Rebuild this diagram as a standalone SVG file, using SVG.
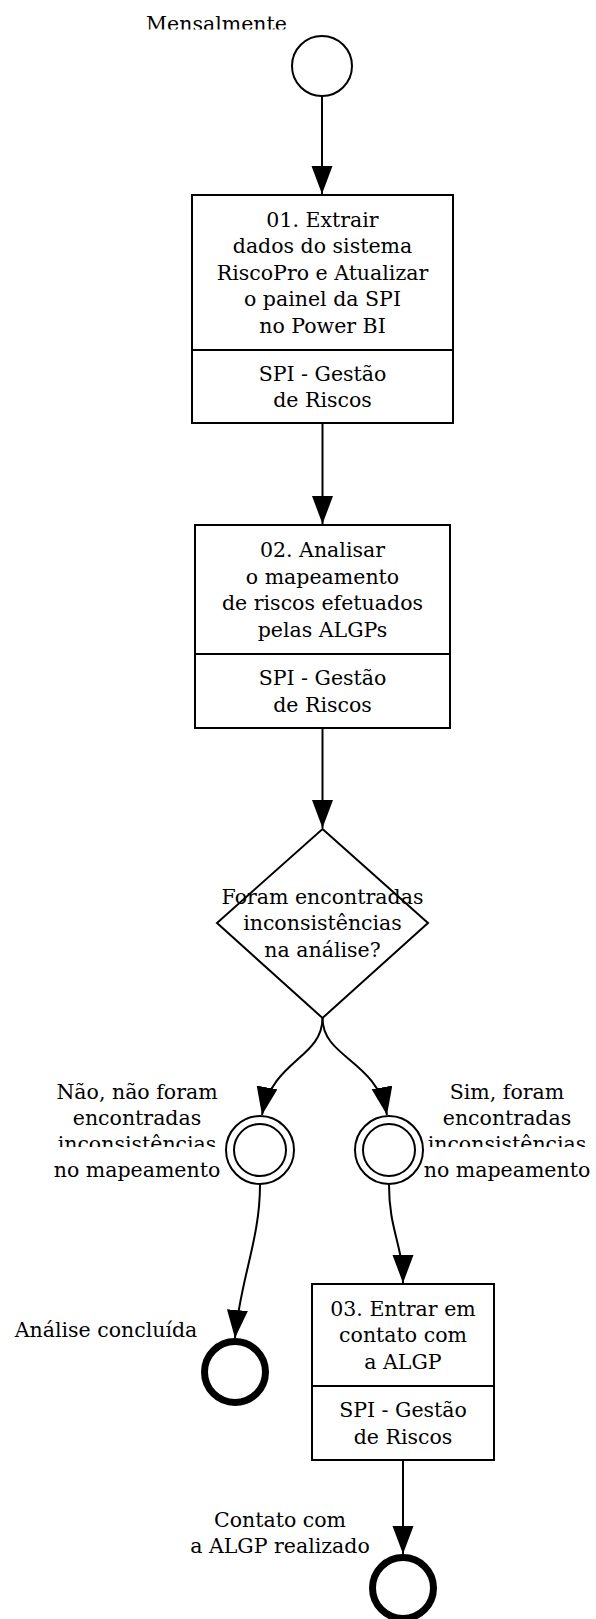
<svg xmlns="http://www.w3.org/2000/svg" width="596" height="1619" viewBox="0 0 596 1619">
<style>
text{font-family:"DejaVu Serif","Liberation Serif",serif;font-size:20.5px;fill:#000;text-anchor:middle}
.box{fill:#fff;stroke:#000;stroke-width:2}
.div{stroke:#000;stroke-width:2}
.ev{fill:#fff;stroke:#000;stroke-width:2}
.end{fill:#fff;stroke:#000;stroke-width:7}
.con{fill:none;stroke:#000;stroke-width:2;marker-end:url(#ah)}
</style>
<defs>
<marker id="ah" markerUnits="userSpaceOnUse" markerWidth="30" markerHeight="22" refX="28" refY="10.5" orient="auto">
<path d="M0,0 L28,10.5 L0,21 z" fill="#000"/>
</marker>
<clipPath id="c1"><rect x="0" y="0" width="596" height="29.5"/></clipPath>
<clipPath id="c2"><rect x="0" y="1100" width="596" height="47"/></clipPath>
</defs>
<g id="connectors">
<path class="con" d="M322,96 L322,194"/>
<path class="con" d="M322.5,424 L322.5,524"/>
<path class="con" d="M322.5,729 L322.5,828"/>
<path class="con" d="M322.5,1018 C322.5,1058 272,1060 262,1115"/>
<path class="con" d="M322.5,1018 C322.5,1058 377,1060 387,1115"/>
<path class="con" d="M260,1185 C260,1240 240,1280 235,1338"/>
<path class="con" d="M389,1185 C389,1230 403,1245 403,1283"/>
<path class="con" d="M403,1461 L403,1554"/>
</g>
<g id="start">
<circle class="ev" cx="322" cy="66" r="30"/>
<text x="216.5" y="31" clip-path="url(#c1)">Mensalmente</text>
</g>
<g id="task1">
<rect class="box" x="192" y="195" width="261" height="228"/>
<line class="div" x1="192" y1="350" x2="453" y2="350"/>
<text x="322.5" y="226.5">01. Extrair</text>
<text x="322.5" y="253">dados do sistema</text>
<text x="322.5" y="279.5">RiscoPro e Atualizar</text>
<text x="322.5" y="306">o painel da SPI</text>
<text x="322.5" y="332.5">no Power BI</text>
<text x="322.5" y="380.5">SPI - Gestão</text>
<text x="322.5" y="407">de Riscos</text>
</g>
<g id="task2">
<rect class="box" x="195" y="525" width="255" height="203"/>
<line class="div" x1="195" y1="654" x2="450" y2="654"/>
<text x="322.5" y="557">02. Analisar</text>
<text x="322.5" y="583.5">o mapeamento</text>
<text x="322.5" y="610">de riscos efetuados</text>
<text x="322.5" y="636.5">pelas ALGPs</text>
<text x="322.5" y="685">SPI - Gestão</text>
<text x="322.5" y="711.5">de Riscos</text>
</g>
<g id="gateway">
<path class="ev" d="M322.5,829 L428,923 L322.5,1018 L217,923 z"/>
<text x="322.5" y="903.5">Foram encontradas</text>
<text x="322.5" y="930">inconsistências</text>
<text x="322.5" y="956.5">na análise?</text>
</g>
<g id="event-nao">
<circle class="ev" cx="260" cy="1150" r="34"/>
<circle class="ev" cx="260" cy="1150" r="26"/>
<text x="137" y="1099">Não, não foram</text>
<text x="137" y="1125">encontradas</text>
<text x="137" y="1151" clip-path="url(#c2)">inconsistências</text>
<text x="137" y="1177">no mapeamento</text>
</g>
<g id="event-sim">
<circle class="ev" cx="389" cy="1150" r="34"/>
<circle class="ev" cx="389" cy="1150" r="26"/>
<text x="507" y="1099">Sim, foram</text>
<text x="507" y="1125">encontradas</text>
<text x="507" y="1151" clip-path="url(#c2)">inconsistências</text>
<text x="507" y="1177">no mapeamento</text>
</g>
<g id="end-analise">
<circle class="end" cx="235" cy="1372" r="30.5"/>
<text x="106" y="1337">Análise concluída</text>
</g>
<g id="task3">
<rect class="box" x="312" y="1284" width="182" height="176"/>
<line class="div" x1="312" y1="1386" x2="494" y2="1386"/>
<text x="403" y="1315.5">03. Entrar em</text>
<text x="403" y="1342">contato com</text>
<text x="403" y="1368.5">a ALGP</text>
<text x="403" y="1417">SPI - Gestão</text>
<text x="403" y="1443.5">de Riscos</text>
</g>
<g id="end-contato">
<circle class="end" cx="403" cy="1588" r="30.5"/>
<text x="280" y="1527">Contato com</text>
<text x="280" y="1553">a ALGP realizado</text>
</g>
</svg>
